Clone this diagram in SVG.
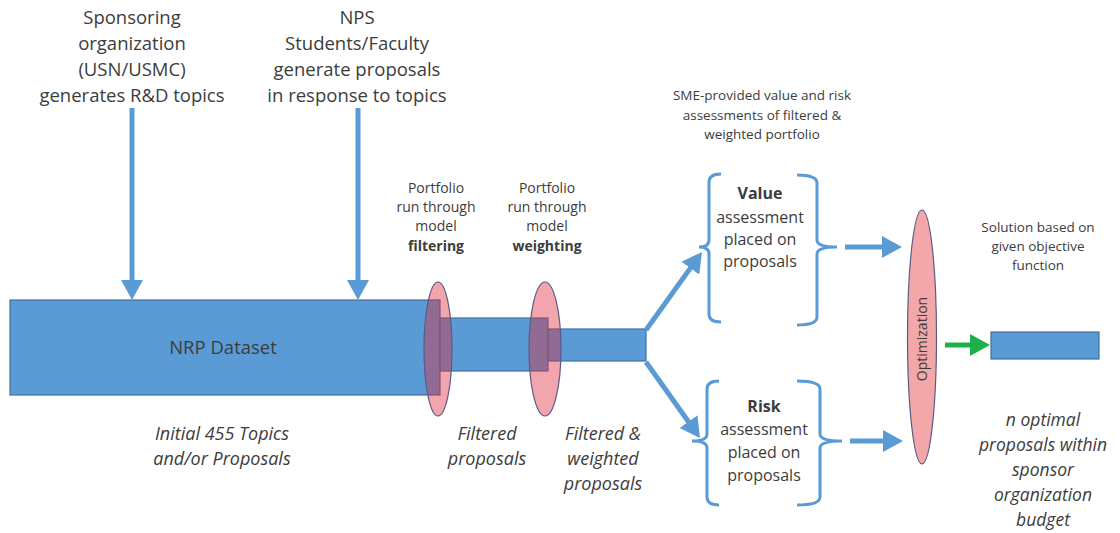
<svg xmlns="http://www.w3.org/2000/svg" width="1120" height="533" viewBox="0 0 1120 533">
<style>
text{font-family:"Open Sans","Liberation Sans",sans-serif;fill:#3c3c3c;text-anchor:middle}
.top{font-size:18.5px}
.sm{font-size:14px}
.sme{font-size:13.5px}
.box{font-size:16px}
.it{font-size:18px;font-style:italic}
.b{font-weight:bold}
.bar{fill:#5B9BD5;stroke:#41719C;stroke-width:1.2}
.lens{fill:rgba(225,40,60,0.42);stroke:#5a5a8a;stroke-width:1.2}
.opt{fill:#F4A7A9;stroke:#5a5a8a;stroke-width:1.2}
.arr{stroke:#5B9BD5;stroke-width:5;fill:none;marker-end:url(#ah)}
.brace{stroke:#5B9BD5;stroke-width:3;fill:none}
</style>
<defs>
<marker id="ah" markerUnits="userSpaceOnUse" viewBox="0 0 20 22" markerWidth="20" markerHeight="22" refX="1" refY="11" orient="auto">
<path d="M0,0 L20,11 L0,22 z" fill="#5B9BD5"/>
</marker>
<marker id="ahg" markerUnits="userSpaceOnUse" viewBox="0 0 20 22" markerWidth="20" markerHeight="22" refX="1" refY="11" orient="auto">
<path d="M0,0 L20,11 L0,22 z" fill="#1DB04B"/>
</marker>
</defs>

<g id="sponsor">
<text class="top" x="132" y="24">Sponsoring</text>
<text class="top" x="132" y="50">organization</text>
<text class="top" x="132" y="76">(USN/USMC)</text>
<text class="top" x="132" y="102">generates R&amp;D topics</text>
</g>
<g id="nps">
<text class="top" x="357" y="24">NPS</text>
<text class="top" x="357" y="50">Students/Faculty</text>
<text class="top" x="357" y="76">generate proposals</text>
<text class="top" x="357" y="102">in response to topics</text>
</g>

<g id="dataset">
<rect class="bar" x="10" y="300" width="430" height="95"/>
<text x="223" y="354" style="font-size:18.5px">NRP Dataset</text>
</g>
<g id="filtered">
<rect class="bar" x="440" y="318" width="108" height="53"/>
</g>
<g id="weighted">
<rect class="bar" x="548" y="329" width="98" height="32"/>
</g>
<g id="filter-lens">
<ellipse class="lens" cx="438" cy="349" rx="14" ry="67"/>
<text class="sm" x="436" y="193">Portfolio</text>
<text class="sm" x="436" y="212">run through</text>
<text class="sm" x="436" y="231">model</text>
<text class="sm b" x="436" y="251">filtering</text>
</g>
<g id="weight-lens">
<ellipse class="lens" cx="545" cy="349" rx="16" ry="67"/>
<text class="sm" x="547" y="193">Portfolio</text>
<text class="sm" x="547" y="212">run through</text>
<text class="sm" x="547" y="231">model</text>
<text class="sm b" x="547" y="251">weighting</text>
</g>

<g id="labels">
<text class="it" x="222" y="440">Initial 455 Topics</text>
<text class="it" x="222" y="465">and/or Proposals</text>
<text class="it" x="487" y="440">Filtered</text>
<text class="it" x="487" y="465">proposals</text>
<text class="it" x="603" y="440">Filtered &amp;</text>
<text class="it" x="603" y="465">weighted</text>
<text class="it" x="603" y="490">proposals</text>
</g>

<g id="sme">
<text class="sme" x="762" y="100">SME-provided value and risk</text>
<text class="sme" x="762" y="120">assessments of filtered &amp;</text>
<text class="sme" x="762" y="139">weighted portfolio</text>
</g>

<g id="value">
<path class="brace" d="M721,174 Q709,174 709,182 V240 Q709,247 699,247 Q709,247 709,254 V314 Q709,322 721,322"/>
<path class="brace" d="M797,175 Q817,175 817,183 V240 Q817,247 837,247 Q817,247 817,254 V317 Q817,325 797,325"/>
<text class="box b" x="760" y="199">Value</text>
<text class="box" x="760" y="223">assessment</text>
<text class="box" x="760" y="245">placed on</text>
<text class="box" x="760" y="267">proposals</text>
</g>
<g id="risk">
<path class="brace" d="M719,381 Q707,381 707,389 V434 Q707,441 692,441 Q707,441 707,448 V497 Q707,505 719,505"/>
<path class="brace" d="M797,381 Q820,381 820,389 V434 Q820,441 842,441 Q820,441 820,448 V497 Q820,505 797,505"/>
<text class="box b" x="764" y="412">Risk</text>
<text class="box" x="764" y="435">assessment</text>
<text class="box" x="764" y="458">placed on</text>
<text class="box" x="764" y="481">proposals</text>
</g>

<g id="optimization">
<ellipse class="opt" cx="922" cy="337" rx="14.5" ry="127"/>
<text class="sm" transform="translate(927,339) rotate(-90)">Optimization</text>
</g>

<g id="output">
<rect class="bar" x="991" y="332" width="108" height="27"/>
<text class="sme" x="1038" y="232">Solution based on</text>
<text class="sme" x="1038" y="251">given objective</text>
<text class="sme" x="1038" y="270">function</text>
<text class="it" x="1043" y="426" style="font-size:17.5px">n optimal</text>
<text class="it" x="1043" y="451" style="font-size:17.5px">proposals within</text>
<text class="it" x="1043" y="476" style="font-size:17.5px">sponsor</text>
<text class="it" x="1043" y="501" style="font-size:17.5px">organization</text>
<text class="it" x="1043" y="526" style="font-size:17.5px">budget</text>
</g>

<g id="connectors">
<line class="arr" x1="132" y1="108" x2="132" y2="281"/>
<line class="arr" x1="358" y1="108" x2="358" y2="281"/>
<line class="arr" x1="646" y1="330" x2="690.9" y2="267.4"/>
<line class="arr" x1="646" y1="362" x2="689" y2="422.5"/>
<line class="arr" x1="845" y1="247" x2="883" y2="247"/>
<line class="arr" x1="850" y1="441" x2="884" y2="441"/>
<line x1="945" y1="345" x2="971" y2="345" stroke="#1DB04B" stroke-width="5" marker-end="url(#ahg)"/>
</g>
</svg>
